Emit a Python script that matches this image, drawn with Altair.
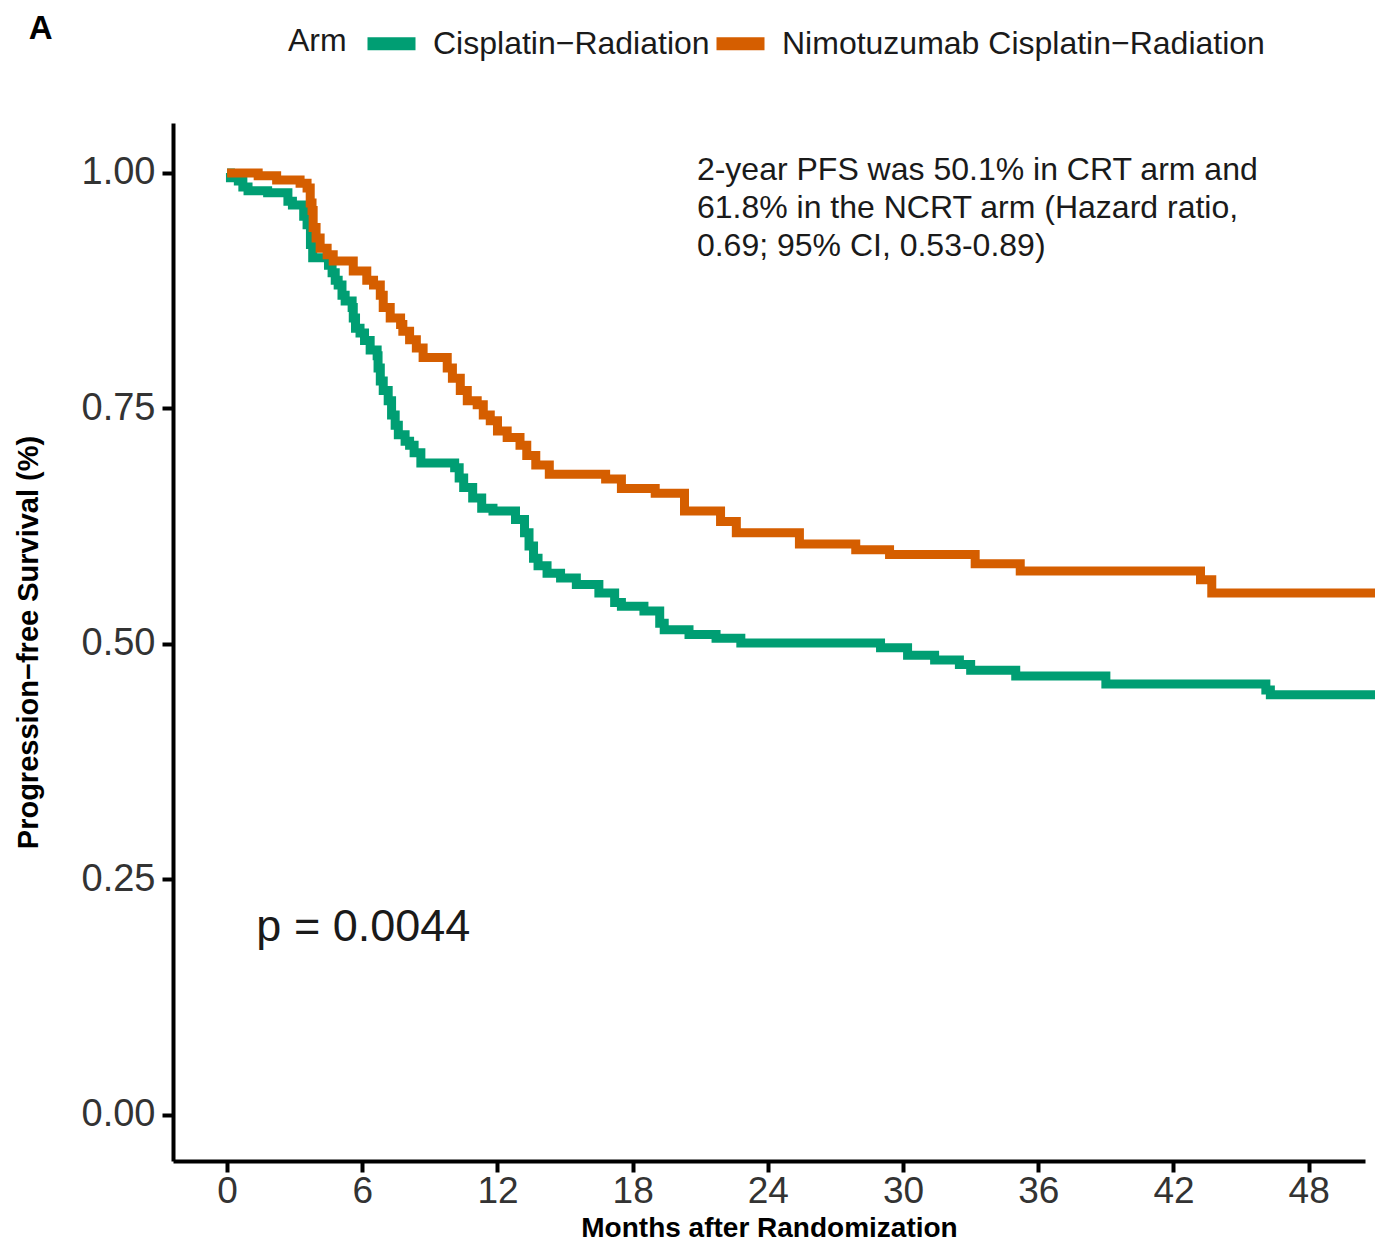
import altair as alt
import pandas as pd

# ---- data ----
arms = ["Cisplatin\u2212Radiation", "Nimotuzumab Cisplatin\u2212Radiation"]
arm_colors = ["#009E73", "#D55E00"]

crt_months = [0, 0.15, 0.5, 0.7, 0.93, 1.8, 2.7, 2.9, 3.4, 3.55, 3.7, 3.8, 4.5, 4.66, 4.8,
              4.93, 5.1, 5.24, 5.55, 5.6, 5.7, 5.9, 6.1, 6.35, 6.66, 6.7, 6.8, 6.93, 7.15,
              7.3, 7.46, 7.6, 7.9, 8.1, 8.3, 8.6, 10.1, 10.3, 10.5, 10.9, 11.3, 11.8, 12.8,
              13.2, 13.4, 13.6, 13.8, 14.2, 14.8, 15.5, 16.5, 17.2, 17.5, 18.5, 19.2, 19.4,
              20.5, 21.7, 22.8, 29.0, 30.2, 31.4, 32.5, 33.0, 35.0, 39.0, 46.1, 46.3, 51.0]
crt_surv = [1.0, 0.995, 0.9915, 0.985, 0.981, 0.979, 0.970, 0.966, 0.954, 0.945, 0.924,
            0.910, 0.902, 0.894, 0.886, 0.881, 0.870, 0.864, 0.857, 0.846, 0.835, 0.830,
            0.822, 0.812, 0.806, 0.793, 0.779, 0.769, 0.758, 0.743, 0.732, 0.722, 0.715,
            0.711, 0.703, 0.692, 0.687, 0.676, 0.666, 0.655, 0.644, 0.641, 0.632, 0.618,
            0.604, 0.591, 0.583, 0.575, 0.570, 0.563, 0.554, 0.544, 0.540, 0.535, 0.522,
            0.515, 0.510, 0.506, 0.501, 0.496, 0.488, 0.483, 0.478, 0.472, 0.466, 0.4575,
            0.451, 0.446, 0.446]

ncrt_months = [0, 1.38, 2.2, 3.24, 3.55, 3.69, 3.77, 3.82, 3.95, 4.13, 4.44, 4.71, 5.6, 6.2,
               6.5, 6.8, 6.93, 7.24, 7.7, 7.8, 8.1, 8.4, 8.7, 9.77, 10.0, 10.35, 10.66, 11.1,
               11.37, 11.68, 12.0, 12.43, 13.0, 13.3, 13.7, 14.3, 16.8, 17.5, 19.0, 20.3,
               21.9, 22.6, 25.4, 27.9, 29.4, 33.2, 35.2, 43.2, 43.7, 51.0]
ncrt_surv = [1.0, 0.997, 0.9926, 0.989, 0.984, 0.968, 0.960, 0.942, 0.931, 0.920, 0.913,
             0.9066, 0.896, 0.886, 0.881, 0.870, 0.857, 0.846, 0.839, 0.832, 0.823, 0.814,
             0.804, 0.793, 0.782, 0.769, 0.758, 0.754, 0.743, 0.737, 0.726, 0.719, 0.711,
             0.700, 0.690, 0.680, 0.675, 0.665, 0.660, 0.641, 0.630, 0.618, 0.606, 0.600,
             0.595, 0.585, 0.5775, 0.568, 0.554, 0.554]

x_ticks = [0, 6, 12, 18, 24, 30, 36, 42, 48]
y_ticks = [0.0, 0.25, 0.5, 0.75, 1.0]

p_text = "p = 0.0044"
p_pos = (1.3, 0.1847)
note_lines = ["2-year PFS was 50.1% in CRT arm and",
              "61.8% in the NCRT arm (Hazard ratio,",
              "0.69; 95% CI, 0.53-0.89)"]
note_pos = (20.85, 0.9926)
panel_text = "A"
panel_pos = (-8.8, 1.142)

# ---- table ----
rows = []
for t, s in zip(crt_months, crt_surv):
    rows.append({"Months": t, "Survival": s, "Arm": arms[0]})
for t, s in zip(ncrt_months, ncrt_surv):
    rows.append({"Months": t, "Survival": s, "Arm": arms[1]})
df = pd.DataFrame(rows)

FONT = "Liberation Sans"

x_scale = alt.Scale(domain=[-2.4, 50.5], nice=False, zero=False)
y_scale = alt.Scale(domain=[-0.049, 1.053], nice=False, zero=False)

lines = alt.Chart(df).mark_line(
    interpolate="step-after", strokeWidth=9, clip=False
).encode(
    x=alt.X("Months:Q", scale=x_scale,
            axis=alt.Axis(values=x_ticks, title="Months after Randomization",
                          titleFontSize=28, titleFontWeight="bold", titleColor="#000000",
                          titleFont=FONT, titleBaseline="alphabetic", titleY=75,
                          labelFontSize=37, labelFont=FONT, labelColor="#333333",
                          labelPadding=1, tickSize=11, tickWidth=4, tickColor="#000000",
                          domainWidth=4, domainColor="#000000", grid=False)),
    y=alt.Y("Survival:Q", scale=y_scale,
            axis=alt.Axis(values=y_ticks, format=".2f", title="Progression\u2212free Survival (%)",
                          titleFontSize=29, titleFontWeight="bold", titleColor="#000000",
                          titleFont=FONT, titleAngle=-90, titleX=-145, titleY=519,
                          titleBaseline="middle", titleAlign="center",
                          labelFontSize=38, labelFont=FONT, labelColor="#333333",
                          labelPadding=7, tickSize=11, tickWidth=4, tickColor="#000000",
                          domainWidth=4, domainColor="#000000", grid=False)),
    color=alt.Color("Arm:N", scale=alt.Scale(domain=arms, range=arm_colors),
                    legend=alt.Legend(orient="none", legendX=115, legendY=-110,
                                      direction="horizontal", titleOrient="left",
                                      title="Arm", titleFontSize=32, titleFontWeight="normal",
                                      titleFont=FONT, titleColor="#1a1a1a", titlePadding=14,
                                      labelFontSize=32, labelFont=FONT, labelColor="#1a1a1a",
                                      labelLimit=0, labelOffset=11, columnPadding=-24,
                                      symbolType="stroke", symbolSize=2304,
                                      symbolStrokeWidth=13)),
)

p_label = alt.Chart(pd.DataFrame({"t": [p_text]})).mark_text(
    align="left", baseline="alphabetic", fontSize=45, font=FONT, color="#1a1a1a"
).encode(x=alt.datum(p_pos[0]), y=alt.datum(p_pos[1]), text="t:N")

note = alt.Chart(pd.DataFrame({"t": [note_lines]})).mark_text(
    align="left", baseline="alphabetic", fontSize=32, lineHeight=38, font=FONT,
    color="#1a1a1a"
).encode(x=alt.datum(note_pos[0]), y=alt.datum(note_pos[1]), text="t")

panel = alt.Chart(pd.DataFrame({"t": [panel_text]})).mark_text(
    align="left", baseline="alphabetic", fontSize=33, fontWeight="bold", font=FONT,
    color="#000000", clip=False
).encode(x=alt.datum(panel_pos[0]), y=alt.datum(panel_pos[1]), text="t:N")

chart = alt.layer(lines, p_label, note, panel).properties(
    width=1192, height=1038,
    autosize=alt.AutoSizeParams(type="none"),
    padding={"left": 165, "top": 115, "right": 10, "bottom": 81},
).configure_view(stroke=None)

chart.save("out.html", embed_options={"renderer": "svg", "actions": False})
